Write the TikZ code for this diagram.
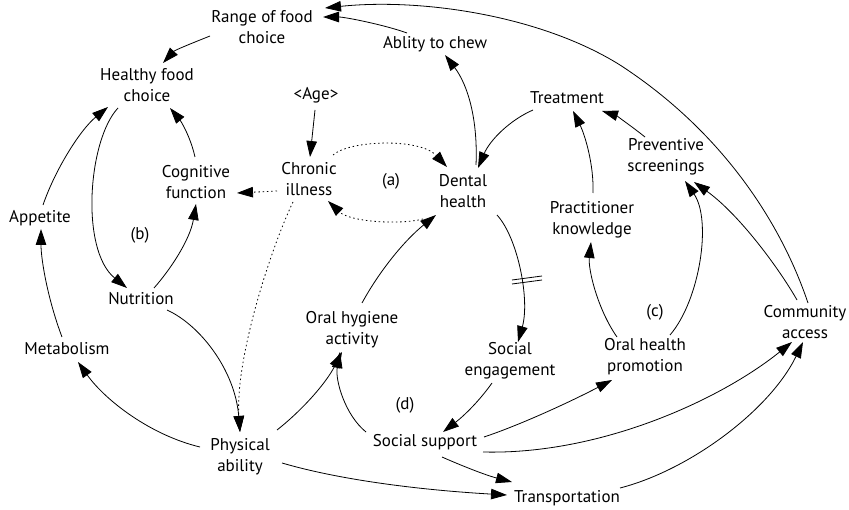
\documentclass[tikz,border=0pt]{standalone}
\usepackage{fontspec}
\setmainfont{PT Sans}
\usetikzlibrary{arrows.meta}
\begin{document}
\begin{tikzpicture}[x=1pt,y=-1pt,
  lbl/.style={align=center,font=\fontsize{17}{21}\selectfont,inner sep=0pt},
  link/.style={line width=0.8pt,-{Triangle[length=16pt,width=10.5pt]}},
  dotlink/.style={link,dash pattern=on 1.5pt off 2.8pt},
  delaymark/.style={line width=0.8pt}]
\fill[white] (0,0) rectangle (849,510);
\useasboundingbox (0,0) rectangle (849,510);
% nodes
\node[lbl] (range) at (262,27) {Range of food\\choice};
\node[lbl] (chew) at (435,44) {Ablity to chew};
\node[lbl] (healthy) at (147,85) {Healthy food\\choice};
\node[lbl] (age) at (316,95) {\textless Age\textgreater};
\node[lbl] (treat) at (567,98) {Treatment};
\node[lbl] (chronic) at (309,179) {Chronic\\illness};
\node[lbl] (cog) at (196,182) {Cognitive\\function};
\node[lbl] (la) at (391,181) {(a)};
\node[lbl] (dental) at (463,191) {Dental\\health};
\node[lbl] (prev) at (666,157) {Preventive\\screenings};
\node[lbl] (appetite) at (40,218) {Appetite};
\node[lbl] (lb) at (140,235) {(b)};
\node[lbl] (pract) at (592,220) {Practitioner\\knowledge};
\node[lbl] (nutr) at (141,299) {Nutrition};
\node[lbl] (oha) at (352,330) {Oral hygiene\\activity};
\node[lbl] (comm) at (805,322) {Community\\access};
\node[lbl] (lc) at (655,312) {(c)};
\node[lbl] (metab) at (67,349) {Metabolism};
\node[lbl] (seng) at (510,361) {Social\\engagement};
\node[lbl] (ohp) at (645,357) {Oral health\\promotion};
\node[lbl] (ld) at (405,405) {(d)};
\node[lbl] (phys) at (240,457) {Physical\\ability};
\node[lbl] (ssup) at (425,442) {Social support};
\node[lbl] (trans) at (567,498) {Transportation};
% connectors
\draw[link] ([shift={(-28,-11)}]chew.center) .. controls (385,25) and (345,17) .. ([shift={(61,-10)}]range.center);
\draw[link] ([shift={(3,-19)}]comm.center) .. controls (780,220) and (720,130) .. (620,65) .. controls (540,15) and (420,-2) .. ([shift={(63,-19)}]range.center);
\draw[link] ([shift={(-52,9)}]range.center) .. controls (195,42) and (175,50) .. ([shift={(16,-22)}]healthy.center);
\draw[link] ([shift={(3,-13)}]appetite.center) .. controls (55,170) and (80,130) .. ([shift={(-39,22)}]healthy.center);
\draw[link] ([shift={(-29,23)}]healthy.center) .. controls (88,140) and (80,250) .. ([shift={(-14,-11)}]nutr.center);
\draw[link] ([shift={(13,-11)}]nutr.center) .. controls (170,270) and (190,240) .. ([shift={(0,22)}]cog.center);
\draw[link] ([shift={(-1,-25)}]cog.center) .. controls (190,135) and (180,120) .. ([shift={(23,23)}]healthy.center);
\draw[link] ([shift={(-1,15)}]age.center) -- ([shift={(1,-22)}]chronic.center);
\draw[dotlink] ([shift={(-32,12)}]chronic.center) -- ([shift={(41,11)}]cog.center);
\draw[dotlink] ([shift={(24,-24)}]chronic.center) .. controls (350,140) and (420,138) .. ([shift={(-16,-24)}]dental.center);
\draw[dotlink] ([shift={(-40,28)}]dental.center) .. controls (400,225) and (350,222) .. ([shift={(19,22)}]chronic.center);
\draw[dotlink] ([shift={(-16,23)}]chronic.center) .. controls (270,250) and (235,360) .. ([shift={(0,-25)}]phys.center);
\draw[link] ([shift={(26,11)}]nutr.center) .. controls (200,325) and (235,370) .. ([shift={(0,-25)}]phys.center);
\draw[link] ([shift={(-40,-10)}]phys.center) .. controls (150,435) and (105,400) .. ([shift={(11,13)}]metab.center);
\draw[link] ([shift={(-5,-12)}]metab.center) .. controls (48,300) and (41,260) .. ([shift={(1,11)}]appetite.center);
\draw[link] ([shift={(37,-27)}]phys.center) .. controls (300,412) and (325,385) .. ([shift={(-10,22)}]oha.center);
\draw[link] ([shift={(-59,-10)}]ssup.center) .. controls (345,415) and (335,380) .. ([shift={(-12,22)}]oha.center);
\draw[link] ([shift={(10,-27)}]oha.center) .. controls (380,270) and (405,240) .. ([shift={(-27,24)}]dental.center);
\draw[link] ([shift={(13,-26)}]dental.center) .. controls (478,120) and (468,85) .. ([shift={(10,11)}]chew.center);
\draw[link] ([shift={(-34,12)}]treat.center) .. controls (510,120) and (490,140) .. ([shift={(15,-23)}]dental.center);
\draw[link] ([shift={(1,-27)}]pract.center) .. controls (594,165) and (585,135) .. ([shift={(6,13)}]treat.center);
\draw[link] ([shift={(-21,-20)}]prev.center) .. controls (630,125) and (615,115) .. ([shift={(35,13)}]treat.center);
\draw[link] ([shift={(-28,-20)}]ohp.center) .. controls (598,310) and (588,270) .. ([shift={(-1,22)}]pract.center);
\draw[link] ([shift={(25,-22)}]ohp.center) .. controls (700,300) and (712,220) .. ([shift={(19,24)}]prev.center);
\draw[link] ([shift={(-8,-22)}]comm.center) .. controls (780,270) and (740,215) .. ([shift={(28,25)}]prev.center);
\draw[link] ([shift={(34,24)}]dental.center) .. controls (518,238) and (530,300) .. ([shift={(8,-19)}]seng.center);
\draw[link] ([shift={(-18,22)}]seng.center) .. controls (480,400) and (465,415) .. ([shift={(18,-10)}]ssup.center);
\draw[link] ([shift={(59,-5)}]ssup.center) .. controls (520,425) and (570,402) .. ([shift={(-33,23)}]ohp.center);
\draw[link] ([shift={(58,10)}]ssup.center) .. controls (600,455) and (720,400) .. ([shift={(-13,20)}]comm.center);
\draw[link] ([shift={(53,-10)}]trans.center) .. controls (690,470) and (770,410) .. ([shift={(-2,20)}]comm.center);
\draw[link] ([shift={(17,15)}]ssup.center) .. controls (460,465) and (485,475) .. ([shift={(-55,-16)}]trans.center);
\draw[link] ([shift={(42,6)}]phys.center) .. controls (340,480) and (420,490) .. ([shift={(-60,-3)}]trans.center);
% delay mark
\draw[delaymark] (512,280) -- (542,276);
\draw[delaymark] (512,284) -- (542,280);
\end{tikzpicture}
\end{document}
